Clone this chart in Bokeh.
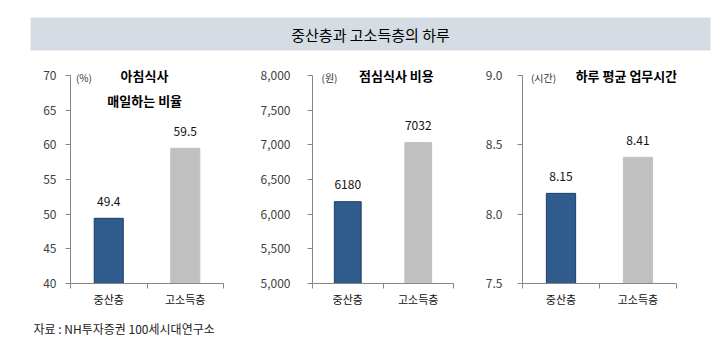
from bokeh.plotting import figure
from bokeh.models import Range1d, FixedTicker, NumeralTickFormatter, Label, ColumnDataSource
from bokeh.layouts import column, row
from bokeh.embed import file_html
from bokeh.resources import INLINE
from bokeh.core.properties import value

# ---- data ----
title_text = "중산층과 고소득층의 하루"
source_text = "자료 : NH투자증권 100세시대연구소"
categories = ["중산층", "고소득층"]

breakfast_vals = [49.4, 59.5]
breakfast_ticks = [40, 45, 50, 55, 60, 65, 70]
breakfast_labels = ["49.4", "59.5"]

lunch_vals = [6180, 7032]
lunch_ticks = [5000, 5500, 6000, 6500, 7000, 7500, 8000]
lunch_labels = ["6180", "7032"]

work_vals = [8.15, 8.41]
work_ticks = [7.5, 8.0, 8.5, 9.0]
work_labels = ["8.15", "8.41"]

KR = "Noto Sans CJK KR"
BAR_COLORS = ["#2f5b8d", "#c0c0c0"]
BAR_LINES = ["#1f3d63", "#c0c0c0"]
AXIS_COLOR = "#868686"
TICK_COLOR = "#404040"

FRAME_TOP_PAD = 2      # px from row top to frame top
AXIS_TOP_PX = 15       # px from row top to the top of the value axis
FRAME_BOTTOM = 30      # px below frame
ROW_H = 253
FRAME_H = ROW_H - FRAME_TOP_PAD - FRAME_BOTTOM
AXIS_H = ROW_H - AXIS_TOP_PX - FRAME_BOTTOM


def panel(vals, ticks, labels, fmt, width, bl, br, standoff, unit, unit_px, titles):
    lo, hi = ticks[0], ticks[-1]
    span = hi - lo
    top = lo + span * FRAME_H / AXIS_H

    def ypos(py):  # py: px from row top
        return lo + span * (ROW_H - FRAME_BOTTOM - py) / AXIS_H

    p = figure(width=width, height=ROW_H, output_backend="svg", toolbar_location=None,
               x_range=Range1d(0.5, 2.5), y_range=Range1d(lo, top),
               min_border_left=bl, min_border_right=br,
               min_border_top=FRAME_TOP_PAD, min_border_bottom=FRAME_BOTTOM)
    p.outline_line_color = None
    p.grid.visible = False
    p.background_fill_color = None
    p.border_fill_color = None
    xs = [1, 2]
    src = ColumnDataSource(dict(x=xs, top=vals, color=BAR_COLORS, lc=BAR_LINES, lab=labels))
    p.vbar(x="x", top="top", bottom=lo, width=0.38, fill_color="color",
           line_color="lc", line_width=1, source=src)
    p.text(x="x", y="top", text="lab", source=src, text_align="center", text_baseline="middle",
           y_offset=-17, text_font_size="12px", text_color="#111111", text_font=value(KR))

    xa = p.xaxis[0]
    xa.ticker = FixedTicker(ticks=xs, minor_ticks=[0.5, 1.5, 2.5])
    xa.major_label_overrides = {1: categories[0], 2: categories[1]}
    xa.major_tick_out = 0
    xa.major_tick_in = 0
    xa.minor_tick_out = 5
    xa.minor_tick_in = 0
    xa.minor_tick_line_color = AXIS_COLOR
    xa.axis_line_color = AXIS_COLOR
    xa.major_label_standoff = 2
    xa.major_label_text_font_size = "11px"
    xa.major_label_text_font = KR
    xa.major_label_text_color = "#111111"

    ya = p.yaxis[0]
    ya.ticker = FixedTicker(ticks=ticks)
    ya.bounds = (lo, hi)
    ya.formatter = NumeralTickFormatter(format=fmt)
    ya.major_tick_out = 5
    ya.major_tick_in = 0
    ya.minor_tick_out = 0
    ya.minor_tick_in = 0
    ya.major_tick_line_color = AXIS_COLOR
    ya.axis_line_color = AXIS_COLOR
    ya.major_label_standoff = standoff
    ya.major_label_text_font_size = "12px"
    ya.major_label_text_font = KR
    ya.major_label_text_color = TICK_COLOR

    p.add_layout(Label(x=unit_px[0], y=ypos(unit_px[1]), text=unit, text_align="center",
                       text_baseline="middle", text_font_size="10px", text_font=KR,
                       text_color="#333333"))
    for (tx, ty, tt) in titles:
        p.add_layout(Label(x=tx, y=ypos(ty), text=tt, text_align="center", text_baseline="middle",
                           text_font_size="13px", text_font_style="bold", text_font=KR,
                           text_color="#000000"))
    return p


p1 = panel(breakfast_vals, breakfast_ticks, breakfast_labels, "0", 255, 70, 32, 9,
           "(%)", (0.676, 17), [(1.467, 15, "아침식사"), (1.47, 40, "매일하는 비율")])
p2 = panel(lunch_vals, lunch_ticks, lunch_labels, "0,0", 215, 57, 17, 17,
           "(원)", (0.741, 17), [(1.69, 15, "점심식사 비용")])
p3 = panel(work_vals, work_ticks, work_labels, "0.0", 250, 52, 44, 15,
           "(시간)", (0.773, 17), [(1.85, 15, "하루 평균 업무시간")])

# title banner
t = figure(width=720, height=60, output_backend="svg", toolbar_location=None,
           x_range=Range1d(0, 720), y_range=Range1d(60, 0),
           x_axis_type=None, y_axis_type=None,
           min_border_left=0, min_border_right=0, min_border_top=0, min_border_bottom=0)
t.outline_line_color = None
t.grid.visible = False
t.quad(left=30, right=710, top=17, bottom=50, fill_color="#d6dce4", line_color=None)
t.text(x=[370], y=[33.5], text=[title_text], text_align="center", text_baseline="middle",
       text_font_size="15px", text_font=value(KR), text_color="#000000")

# source line
s = figure(width=720, height=40, output_backend="svg", toolbar_location=None,
           x_range=Range1d(0, 720), y_range=Range1d(40, 0),
           x_axis_type=None, y_axis_type=None,
           min_border_left=0, min_border_right=0, min_border_top=0, min_border_bottom=0)
s.outline_line_color = None
s.grid.visible = False
s.text(x=[33], y=[15], text=[source_text], text_align="left", text_baseline="middle",
       text_font_size="12px", text_font=value(KR), text_color="#222222")

layout = column(t, row(p1, p2, p3, spacing=0), s, spacing=0)
open("out.html", "w").write(file_html(layout, INLINE))
